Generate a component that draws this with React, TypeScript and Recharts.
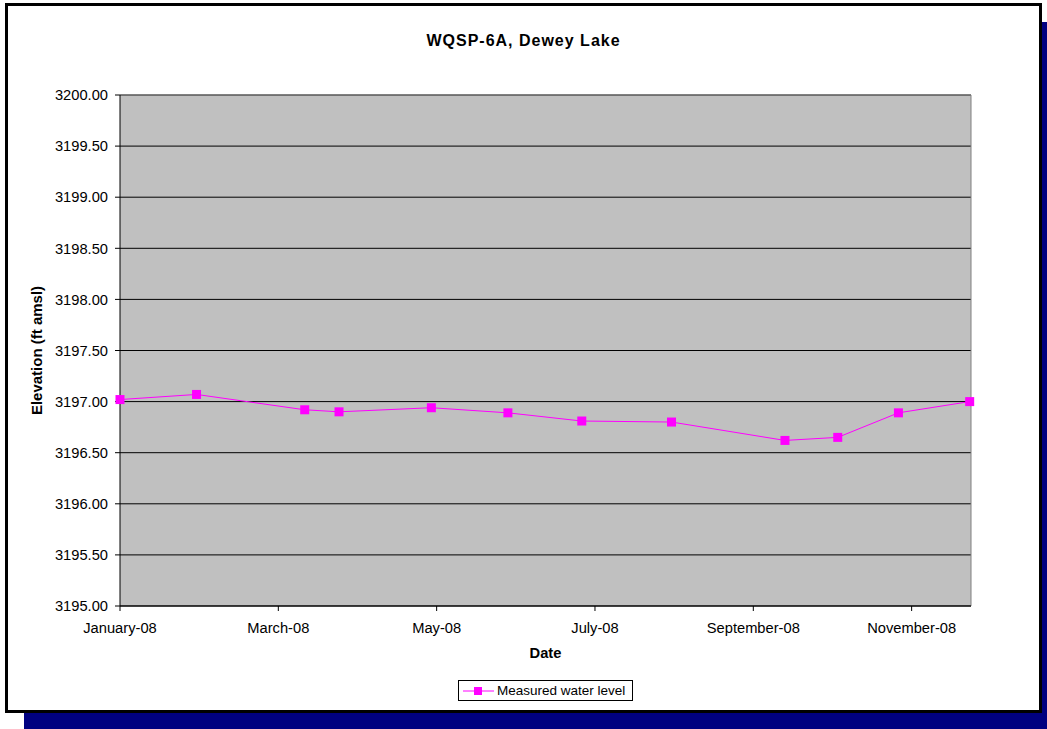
import { LineChart, Line, XAxis, YAxis, CartesianGrid, Legend, ReferenceLine } from 'recharts';

// sampling dates and measured water level (ft amsl)
const sampleDates = [
  '2008-01-01', '2008-01-30', '2008-03-11', '2008-03-24', '2008-04-28', '2008-05-27',
  '2008-06-24', '2008-07-28', '2008-09-09', '2008-09-29', '2008-10-22', '2008-11-18',
];
const waterLevels = [
  3197.02, 3197.07, 3196.92, 3196.9, 3196.94, 3196.89,
  3196.81, 3196.8, 3196.62, 3196.65, 3196.89, 3197.0,
];

const xTickDays = [0, 60, 120, 180, 240, 300];
const xTickLabels = ['January-08', 'March-08', 'May-08', 'July-08', 'September-08', 'November-08'];
const yTicks = [3195, 3195.5, 3196, 3196.5, 3197, 3197.5, 3198, 3198.5, 3199, 3199.5, 3200];

const START = Date.parse('2008-01-01');
const X_MAX = 322.5;

const data = sampleDates.map((d, i) => ({
  day: (Date.parse(d) - START) / 86400000,
  level: waterLevels[i],
}));

const FONT = '"Liberation Sans", Arial, sans-serif';
const MAGENTA = '#FF00FF';

const SquareDot = (props: any) => {
  const { cx, cy, key } = props;
  if (cx == null || cy == null) return null;
  return <rect key={key} x={cx - 4.5} y={cy - 4.5} width={9} height={9} fill={MAGENTA} />;
};

const LegendBox = () => (
  <div
    style={{
      border: '1px solid #000',
      background: '#fff',
      height: 21,
      boxSizing: 'border-box',
      display: 'flex',
      alignItems: 'center',
      fontFamily: FONT,
      fontSize: 13.5,
      color: '#000',
      paddingLeft: 4,
    }}
  >
    <svg width={32} height={12} style={{ marginRight: 2 }}>
      <line x1={0} y1={6} x2={31} y2={6} stroke={MAGENTA} strokeWidth={1} />
      <rect x={11} y={2} width={8} height={8} fill={MAGENTA} />
    </svg>
    <span>Measured water level</span>
  </div>
);

export default function App() {
  return (
    <div style={{ position: 'absolute', left: 0, top: 0, width: 1047, height: 729, fontFamily: FONT }}>
      <div style={{ position: 'absolute', left: 24, top: 22, width: 1023, height: 707, background: '#000080' }} />
      <div
        style={{
          position: 'absolute',
          left: 5,
          top: 3,
          width: 1037,
          height: 710,
          boxSizing: 'border-box',
          border: '3px solid #000',
          background: '#fff',
        }}
      />
      <div
        style={{
          position: 'absolute',
          left: 0,
          top: 32,
          width: 1047,
          textAlign: 'center',
          fontWeight: 'bold',
          fontSize: 16,
          letterSpacing: 1,
          color: '#000',
        }}
      >
        WQSP-6A, Dewey Lake
      </div>
      <div style={{ position: 'absolute', left: 0, top: 0 }}>
        <LineChart width={1047} height={729} data={data} margin={{ top: 95, right: 76, bottom: 93, left: 50 }}>
          <CartesianGrid vertical={false} fill="#C0C0C0" fillOpacity={1} stroke="#000" strokeOpacity={1} />
          <XAxis
            type="number"
            dataKey="day"
            domain={[0, X_MAX]}
            ticks={xTickDays}
            tickFormatter={(v: number) => xTickLabels[xTickDays.indexOf(v)] ?? ''}
            height={30}
            stroke="#000"
            tickSize={5}
            tickMargin={12}
            tick={{ fill: '#000', fontSize: 14.7, fontFamily: FONT }}
            interval={0}
            label={{ value: 'Date', position: 'bottom', offset: 12, style: { fontWeight: 'bold', fontSize: 14.7, fill: '#000', fontFamily: FONT } }}
          />
          <YAxis
            type="number"
            domain={[3195, 3200]}
            ticks={yTicks}
            tickFormatter={(v: number) => v.toFixed(2)}
            width={70}
            stroke="#000"
            tickSize={5}
            tickMargin={7}
            tick={{ fill: '#000', fontSize: 14.7, fontFamily: FONT }}
            interval={0}
            label={{
              value: 'Elevation (ft amsl)',
              angle: -90,
              position: 'insideLeft',
              offset: -13,
              style: { textAnchor: 'middle', fontWeight: 'bold', fontSize: 15, fill: '#000', fontFamily: FONT },
            }}
          />
          <ReferenceLine y={3200} stroke="#808080" strokeWidth={1} />
          <ReferenceLine x={X_MAX} stroke="#808080" strokeWidth={1} />
          <Line
            type="linear"
            dataKey="level"
            name="Measured water level"
            stroke={MAGENTA}
            strokeWidth={1}
            dot={SquareDot}
            activeDot={false}
            isAnimationActive={false}
          />
          <Legend
            layout="vertical"
            align="center"
            verticalAlign="middle"
            content={() => <LegendBox />}
            wrapperStyle={{ top: 680, left: 458, width: 175 }}
          />
        </LineChart>
      </div>
    </div>
  );
}
